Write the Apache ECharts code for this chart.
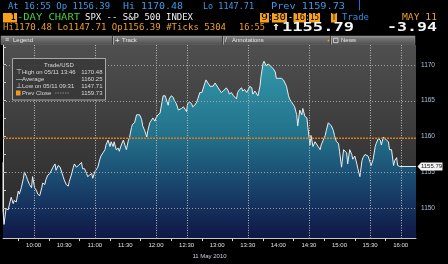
<!DOCTYPE html>
<html><head><meta charset="utf-8">
<script src="https://cdn.jsdelivr.net/npm/echarts@6/dist/echarts.min.js"></script>
<style>html,body{margin:0;padding:0;background:#000;overflow:hidden}#c{width:448px;height:264px}</style>
</head><body><div id="c"></div>
<script>
// ---- data (SPX 1-day chart, 11 May 2010) ----
const times = [
'09:30','09:30','09:31','09:33','09:35','09:36','09:38','09:40','09:41','09:43','09:45','09:46','09:48','09:50','09:51','09:53','09:54','09:56','09:58','09:59',
'10:01','10:03','10:04','10:06','10:08','10:09','10:11','10:12','10:14','10:16','10:17','10:19','10:21','10:22','10:24','10:26','10:27','10:29','10:30','10:32',
'10:34','10:35','10:37','10:39','10:40','10:42','10:44','10:45','10:47','10:48','10:50','10:52','10:53','10:55','10:57','10:58',
'11:00','11:01','11:03','11:05','11:06','11:08','11:10','11:11','11:13','11:15','11:16','11:18','11:19','11:21','11:23','11:24','11:26','11:28','11:29','11:31',
'11:33','11:34','11:36','11:37','11:39','11:41','11:42','11:44','11:46','11:47','11:49','11:51','11:52','11:54','11:55','11:57','11:59',
'12:00','12:02','12:04','12:05','12:07','12:09','12:10','12:12','12:13','12:15','12:17','12:18','12:20','12:22','12:23','12:25','12:27','12:28','12:30','12:31',
'12:33','12:35','12:36','12:38','12:40','12:41','12:43','12:45','12:46','12:48','12:49','12:51','12:53','12:54','12:56','12:58','12:59',
'13:01','13:02','13:04','13:06','13:07','13:09','13:11','13:12','13:14','13:16','13:17','13:19','13:20','13:22','13:24','13:25','13:27','13:29','13:30','13:32',
'13:34','13:35','13:37','13:38','13:40','13:42','13:43','13:45','13:46','13:48','13:50','13:52','13:53','13:55','13:57','13:58',
'14:00','14:01','14:03','14:05','14:06','14:08','14:10','14:11','14:13','14:14','14:16','14:18','14:19','14:21','14:23','14:24','14:26','14:28','14:29','14:31',
'14:32','14:34','14:36','14:37','14:39','14:41','14:42','14:44','14:46','14:47','14:49','14:50','14:52','14:54','14:55','14:57','14:59',
'15:00','15:02','15:04','15:05','15:07','15:08','15:10','15:12','15:13','15:15','15:17','15:18','15:20','15:22','15:23','15:25','15:26','15:28','15:30','15:31',
'15:33','15:35','15:36','15:38','15:40','15:41','15:43','15:44','15:46','15:48','15:49','15:51','15:53','15:54','15:56','15:57','15:59','16:15'
];
const prices = [
1156.39,1149.73,1147.71,1149.95,1149.73,1149.95,1151.50,1150.61,1151.06,1150.83,1152.38,1151.94,1152.83,1154.15,1155.04,1154.38,1153.93,1153.27,1152.83,1154.38,
1152.83,1152.38,1151.94,1151.72,1152.83,1153.49,1153.27,1153.93,1154.60,1154.82,1154.60,1155.70,1156.15,1155.26,1155.93,1155.70,1155.93,1154.38,1153.93,1153.27,
1153.05,1153.71,1154.60,1155.70,1156.15,1155.70,1155.93,1156.15,1156.37,1155.48,1155.48,1154.82,1154.38,1154.60,1154.82,1154.15,
1155.04,1155.26,1155.70,1156.81,1157.25,1157.70,1158.14,1158.80,1159.47,1158.58,1159.25,1158.58,1159.25,1158.14,1158.36,1157.92,1158.80,1159.47,1159.25,1158.14,
1159.47,1159.82,1161.24,1161.68,1161.90,1163.01,1163.23,1163.01,1162.34,1161.46,1160.79,1159.91,1160.79,1161.90,1161.68,1162.57,1162.12,
1162.57,1163.01,1163.23,1163.45,1165.66,1165.66,1165.22,1164.34,1165.22,1165.66,1165.44,1165.00,1164.56,1163.67,1163.67,1163.89,1164.12,1163.89,1163.45,1164.56,
1164.78,1164.56,1164.12,1164.34,1164.78,1165.22,1166.11,1166.11,1166.33,1167.44,1167.88,1167.44,1166.99,1167.21,1166.99,1167.44,1167.21,
1166.77,1166.55,1166.11,1166.33,1166.11,1166.77,1166.33,1165.89,1166.11,1165.66,1165.89,1165.22,1166.11,1166.55,1166.77,1166.33,1166.55,1166.11,1166.33,1166.99,
1166.77,1165.89,1166.33,1166.11,1165.66,1166.99,1168.32,1170.20,1170.48,1169.87,1170.09,1169.87,1169.65,1169.43,1168.98,1168.10,
1168.10,1167.88,1168.10,1167.88,1168.10,1166.99,1165.66,1165.22,1164.78,1164.56,1164.12,1163.01,1161.46,1163.67,1163.01,1163.89,1162.79,1162.57,1161.24,1158.80,
1160.13,1158.58,1159.25,1159.02,1158.58,1158.14,1158.80,1159.47,1160.13,1160.79,1161.90,1162.12,1161.46,1160.79,1160.13,1159.25,1159.02,
1157.92,1155.70,1158.14,1157.92,1157.70,1156.15,1158.14,1157.47,1156.81,1157.25,1156.15,1155.48,1154.38,1156.59,1157.03,1157.47,1157.25,1157.25,1156.37,1155.93,
1156.81,1158.58,1159.02,1159.69,1159.47,1158.80,1159.91,1160.13,1159.47,1159.25,1158.14,1158.14,1155.93,1156.59,1157.03,1155.93,1155.79,1155.79
];
const xLabelTimes = ['10:00','10:30','11:00','11:30','12:00','12:30','13:00','13:30','14:00','14:30','15:00','15:30','16:00'];
const xTickTimes = ['09:45','10:15','10:45','11:15','11:45','12:15','12:45','13:15','13:45','14:15','14:45','15:15','15:45'];
const xGridTimes = ['10:00','11:00','12:00','12:30','13:30','14:30','15:30','16:00'];
const yLabels = [1150,1155,1160,1165,1170];
const yTickValues = [1147.5,1150,1152.5,1155,1157.5,1160,1162.5,1165,1167.5,1170,1172.5];
const yGridValues = [1150,1155,1165,1170];
const yRange = [1145.8,1172.75];
const xRange = ['09:30','16:15'];
const prevClose = 1159.73;
const lastPrice = 1155.79;
const lastTime = '16:15';
const legendNames = ['High on 05/11 13:46','Average','Low on 05/11 09:31','Prev Close'];
const legendValues = [1170.48,1160.25,1147.71,1159.73];
const legendIcons = ['\u22A4','\u2014','\u22A5',''];

// ---- helpers ----
const OPEN = 9*60+30;
function toMin(t){const p=t.split(':').map(Number);return p[0]*60+p[1]-OPEN;}
function toClock(m){const a=m+OPEN;const h=Math.floor(a/60),mm=a%60;return h+':'+(mm<10?'0':'')+mm;}
const seriesData = times.map((t,i)=>[toMin(t),prices[i]]);
const X0 = toMin(xRange[0]), X1 = toMin(xRange[1]);

const MONO='"DejaVu Sans Mono", "Liberation Mono", monospace';
const SANS='"Liberation Sans", Arial, sans-serif';
function mono(text,x0,x1,yc,color,size,bold){
  const w=text.length*0.602*size;
  return {type:'text',x:x0,y:yc,scaleX:(x1-x0)/w,z:100,silent:true,
    style:{text:text,fill:color,fontSize:size,fontFamily:MONO,fontWeight:bold?'bold':'normal',verticalAlign:'middle',align:'left'}};
}
function box(x0,x1,y0,y1,label){
  const r=[{type:'rect',z:100,silent:true,shape:{x:x0,y:y0,width:x1-x0,height:y1-y0},style:{fill:'#f7a21b'}}];
  if(label){r.push(mono(label,x0+1,x1-1,(y0+y1)/2+0.3,'#000',9,false));}
  return r;
}
function sans(text,x,y,color,size,align){
  return {type:'text',x:x,y:y,z:100,silent:true,style:{text:text,fill:color,fontSize:size,fontFamily:SANS,verticalAlign:'middle',align:align||'left'}};
}

const BLUE='#3d9be9', ORANGE='#f0a020';
let g=[];
// header row 1
g.push(mono('At 16:55 Op 1156.39',8,110,6.5,BLUE,9));
g.push(mono('Hi 1170.48',123,183,6.5,BLUE,9));
g.push(mono('Lo 1147.71',203,254,6.5,BLUE,9));
g.push(mono('Prev 1159.73',271,345,6.5,BLUE,9));
g.push({type:'polyline',z:100,silent:true,shape:{points:[[359.5,0],[359.5,10.5]]},style:{stroke:'#2a6cc8',lineWidth:1}});
// header row 2
g=g.concat(box(3,17,13,22.5,''));
g.push(mono('1',11,15.5,18,'#000',9,true));
g.push(mono('-DAY CHART',17,80,17.8,'#42d142',9));
g.push(mono('SPX -- S&P 500 INDEX',85,193,17.8,'#f2f2f2',9));
g=g.concat(box(260,269,13,22.5,'9'));
g.push(mono(':',269.5,272,17.8,'#f2f2f2',9));
g=g.concat(box(272,287,13,22.5,'30'));
g.push(mono('-',288,293,17.8,'#f2f2f2',9));
g=g.concat(box(293.5,306,13,22.5,'16'));
g.push(mono(':',306,309,17.8,'#f2f2f2',9));
g=g.concat(box(309,320,13,22.5,'15'));
g=g.concat(box(331,337,13,22.5,'T'));
g.push(mono('Trade',342,369,17.8,'#2f8fe0',9));
g.push(mono('MAY 11',402,437,17.8,ORANGE,9));
// header row 3
g.push(mono('Hi1170.48 Lo1147.71 Op1156.39 #Ticks 5304',3,226,28,ORANGE,9));
g.push(mono('16:55',239,265,28,ORANGE,9));
g.push(mono('\u2191',272,280,27.5,'#f5f5f5',11,true));
g.push(mono('1155.79',282,354,27.5,'#f5f5f5',12,true));
g.push(mono('-3.94',387,437,27.5,'#f5f5f5',12,true));
// toolbar
g.push({type:'rect',z:100,silent:true,shape:{x:1,y:36,width:414,height:8.5},
  style:{fill:{type:'linear',x:0,y:0,x2:0,y2:1,colorStops:[{offset:0,color:'#a2a2a2'},{offset:0.25,color:'#767676'},{offset:1,color:'#4e4e4e'}]},stroke:'#8a8a8a',lineWidth:0.5}});
[112,222,330].forEach(x=>{
  g.push({type:'polyline',z:101,silent:true,shape:{points:[[x+0.5,36],[x+0.5,44.5]]},style:{stroke:'#3a3a3a',lineWidth:1}});
  g.push({type:'polyline',z:101,silent:true,shape:{points:[[x+1.5,36],[x+1.5,44.5]]},style:{stroke:'#a8a8a8',lineWidth:1}});
});
g.push(sans('\u2261',5,40.3,'#e6e6e6',7));
g.push(sans('Legend',13,40.5,'#e6e6e6',6));
g.push(sans('+',115,40.3,'#ffffff',8));
g.push(sans('Track',122,40.5,'#e6e6e6',6));
g.push(sans('/',225,40.5,'#e6e6e6',6.5));
g.push(sans('Annotations',232,40.5,'#e6e6e6',6));
g.push({type:'circle',z:101,silent:true,shape:{cx:328.5,cy:40.5,r:0.9},style:{fill:'#f0a020'}});
g.push({type:'rect',z:101,silent:true,shape:{x:333.5,y:38.2,width:4.5,height:4.5},style:{fill:'none',stroke:'#e6e6e6',lineWidth:0.8}});
g.push(sans('News',341,40.5,'#e6e6e6',6));
// legend box
g.push({type:'rect',z:100,silent:true,shape:{x:12.5,y:58.5,width:93,height:41.5},style:{fill:'rgba(56,56,56,0.92)',stroke:'#a8a8a8',lineWidth:1}});
g.push(sans('Trade/USD',59,65,'#d8d8d8',6,'center'));
const rowY=[72,79,86,93];
legendNames.forEach((n,i)=>{
  if(i===3){g.push({type:'rect',z:101,silent:true,shape:{x:16,y:rowY[i]-2.5,width:4.5,height:5},style:{fill:'#f39a1e'}});
            g.push({type:'polyline',z:101,silent:true,shape:{points:[[55,rowY[i]],[70,rowY[i]]]},style:{stroke:'#9a9a9a',lineWidth:0.8,lineDash:[1.5,1]}});}
  else g.push(sans(legendIcons[i],16,rowY[i],'#d8d8d8',6.5));
  g.push(sans(n,22,rowY[i],'#d8d8d8',6));
  g.push(sans(legendValues[i].toFixed(2),102.5,rowY[i],'#d8d8d8',6,'right'));
});

const chart = echarts.init(document.getElementById('c'),null,{renderer:'canvas'});
chart.setOption({
  animation:false,
  backgroundColor:'#000',
  grid:{left:3,right:32,top:45,bottom:16,show:true,borderWidth:0,
    backgroundColor:{type:'linear',x:0,y:0,x2:0,y2:1,colorStops:[{offset:0,color:'#4f4f4f'},{offset:0.5,color:'#3a3a3a'},{offset:1,color:'#262626'}]}},
  xAxis:{type:'value',min:X0,max:X1,
    axisLine:{onZero:false,lineStyle:{color:'#c8c8c8',width:1}},
    axisTick:{show:true,customValues:xTickTimes.map(toMin),length:3,lineStyle:{color:'#d0d0d0'}},
    axisLabel:{customValues:xLabelTimes.map(toMin),formatter:v=>toClock(v),color:'#e0e0e0',fontSize:6,fontFamily:SANS,margin:4},
    splitLine:{show:false},
    name:'11 May 2010',nameLocation:'middle',nameGap:8.5,nameTextStyle:{color:'#c8d0e8',fontSize:6,fontFamily:SANS}},
  yAxis:{type:'value',position:'right',min:yRange[0],max:yRange[1],
    axisLine:{show:true,lineStyle:{color:'#e8e8e8',width:1}},
    axisTick:{show:true,customValues:yTickValues,length:3,lineStyle:{color:'#c8c8c8'}},
    axisLabel:{customValues:yLabels,formatter:v=>String(Math.round(v)),color:'#a9c1d9',fontSize:6.5,fontFamily:SANS,margin:5},
    splitLine:{show:false}},
  series:[
    {type:'line',data:seriesData,symbol:'none',showSymbol:false,z:2,
      lineStyle:{color:'#e8eef2',width:1},
      areaStyle:{origin:'start',opacity:1,color:{type:'linear',x:0,y:0,x2:0,y2:1,colorStops:[
        {offset:0,color:'#3298a8'},{offset:0.43,color:'#22708a'},{offset:0.63,color:'#1b5074'},{offset:0.83,color:'#15305c'},{offset:1,color:'#0f1845'}]}}},
    {type:'line',data:[],z:5,silent:true,clip:false,
      markPoint:{silent:true,animation:false,
        data:[{coord:[toMin(lastTime),lastPrice],
          symbol:'path://M0,5 L4,0 L28,0 L28,10 L4,10 Z',symbolSize:[25,8],symbolOffset:[14,0],symbolKeepAspect:false,
          itemStyle:{color:'#f4f4f4'},
          label:{show:true,position:'inside',offset:[1.5,0.3],formatter:lastPrice.toFixed(2),color:'#111',fontSize:6,fontFamily:SANS}}]}}
  ]
});

// gridlines and previous-close line, placed through the chart's own scales
const toPx = (m,v)=>chart.convertToPixel({gridIndex:0},[m,v]);
const gLeft = toPx(X0,yRange[0])[0], gRight = toPx(X1,yRange[0])[0];
const gTop = toPx(X0,yRange[1])[1], gBottom = toPx(X0,yRange[0])[1];
const crisp = v=>Math.round(v)+0.5;
yGridValues.forEach(v=>{const y=crisp(toPx(X0,v)[1]);
  g.push({type:'polyline',z:50,silent:true,shape:{points:[[gLeft,y],[gRight,y]]},style:{stroke:'#a8a8a8',lineWidth:1,lineDash:[1,2],opacity:0.9}});});
xGridTimes.forEach(t=>{const x=crisp(toPx(toMin(t),yRange[0])[0]);
  g.push({type:'polyline',z:50,silent:true,shape:{points:[[x,gTop],[x,gBottom]]},style:{stroke:'#b8b8b8',lineWidth:1,lineDash:[1,1.5],opacity:1}});});
{const y=toPx(X0,prevClose)[1];
  g.push({type:'polyline',z:51,silent:true,shape:{points:[[gLeft,y],[gRight,y]]},style:{stroke:'#d9791a',lineWidth:1.6,lineDash:[2,1]}});}
chart.setOption({graphic:g});
</script></body></html>
